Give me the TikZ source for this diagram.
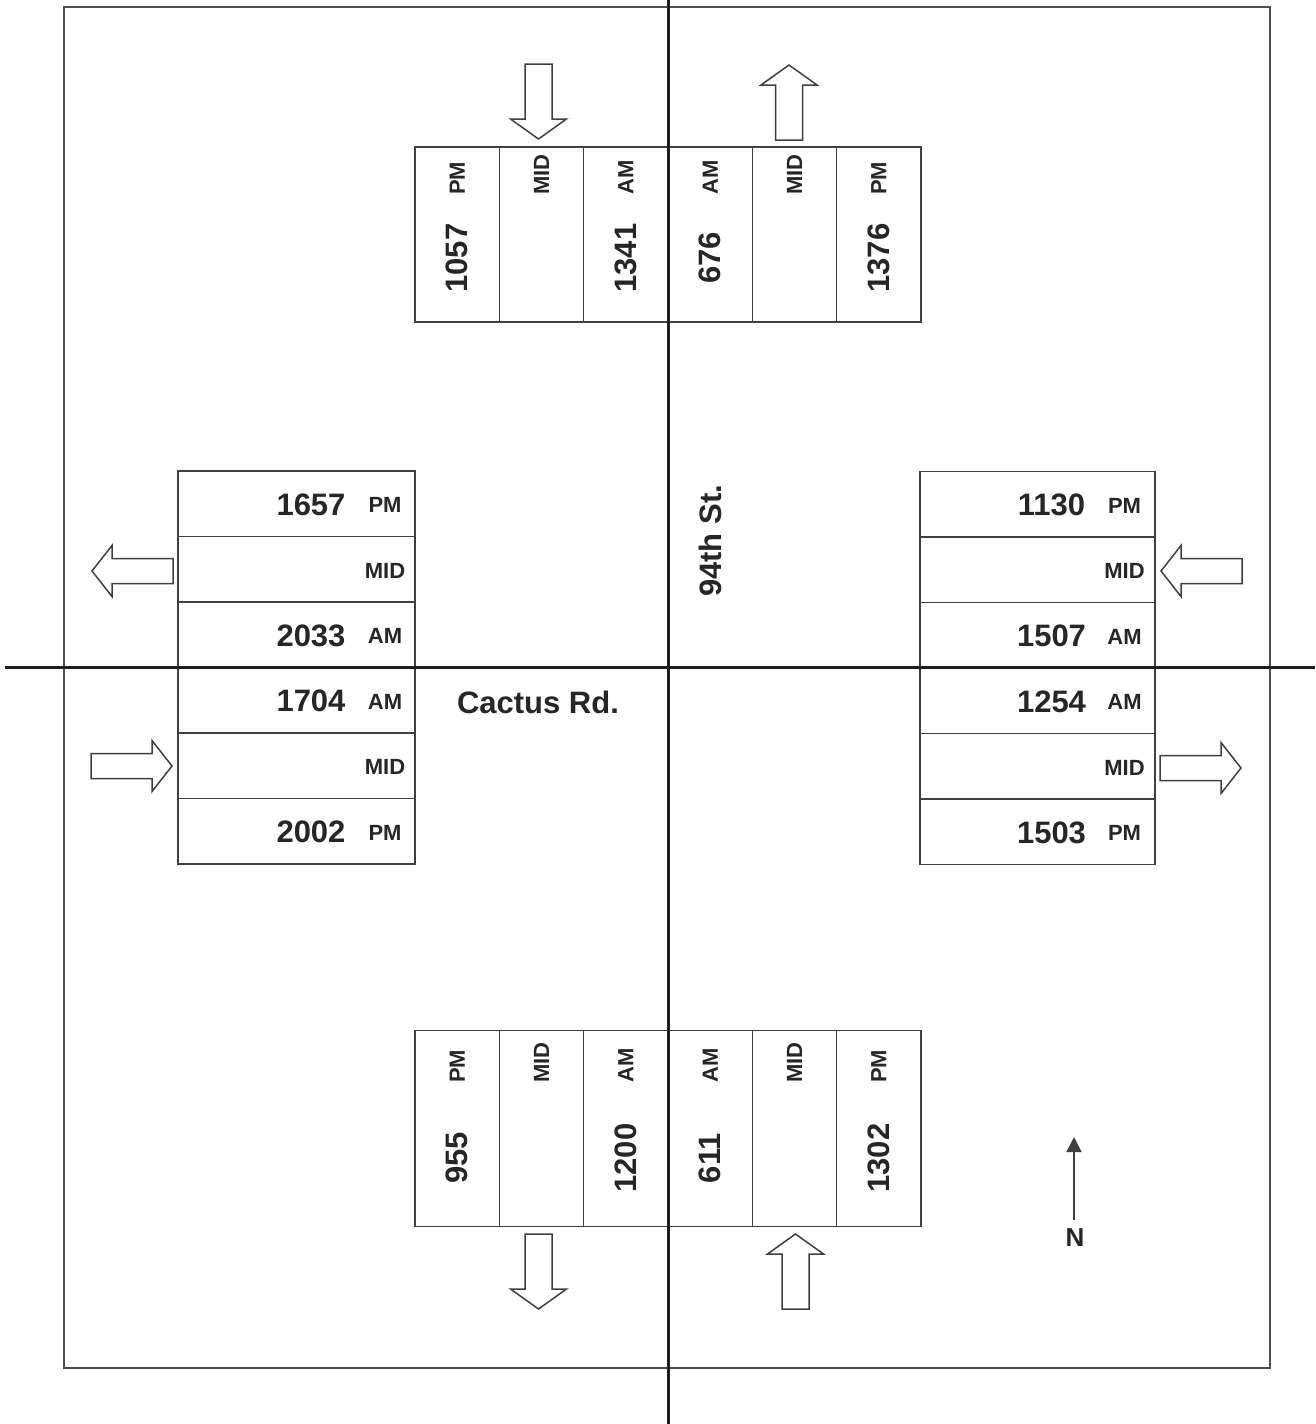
\documentclass[tikz,border=0pt]{standalone}
\usepackage{fontspec}
\setmainfont{Liberation Sans}
\usetikzlibrary{arrows.meta,calc}
\definecolor{framec}{HTML}{505050}
\definecolor{roadc}{HTML}{1E1E1E}
\definecolor{boxc}{HTML}{404040}
\definecolor{txtc}{HTML}{262626}
\newcommand\trafnum{\fontsize{31}{31}\selectfont\bfseries}
\newcommand\traflab{\fontsize{22}{22}\selectfont\bfseries}
\begin{document}
\begin{tikzpicture}[x=1pt,y=-1pt,
  frame/.style={draw=framec,line width=2pt},
  road/.style={draw=roadc,line width=3pt},
  tcell/.style={draw=boxc,line width=1.6pt,minimum width=84.33pt,minimum height=175pt,inner sep=0pt,outer sep=0pt},
  bcell/.style={tcell,minimum height=196pt},
  lcell/.style={draw=boxc,line width=1.6pt,minimum width=237pt,minimum height=65.5pt,inner sep=0pt,outer sep=0pt},
  rcell/.style={lcell,minimum width=235pt},
  num/.style={font=\trafnum,text=txtc,inner sep=0pt},
  lab/.style={font=\traflab,text=txtc,inner sep=0pt},
  blk/.style={draw=boxc,line width=1.5pt,line join=miter},
  varrow/.pic={\draw[blk] (0,-13.5) -- (55,-13.5) -- (55,-28) -- (75,0) -- (55,28) -- (55,13.5) -- (0,13.5) -- cycle;},
  harrow/.pic={\draw[blk] (0,-12.5) -- (61,-12.5) -- (61,-25.5) -- (81,0) -- (61,25.5) -- (61,12.5) -- (0,12.5) -- cycle;}
]
\useasboundingbox (0,0) rectangle (1315,1424);
\fill[white] (0,0) rectangle (1315,1424);
\draw[frame] (64,7) rectangle (1270,1368);

% top box
\foreach \i/\x/\l/\n in {1/457.2/PM/1057, 2/541.5/MID/, 3/625.8/AM/1341, 4/710.2/AM/676, 5/794.5/MID/, 6/878.8/PM/1376}{
  \node[tcell] (t\i) at (\x,234.5) {};
  \node[lab,rotate=90,anchor=west] (tl\i) at (\x,195) {\l};
  \node[num,rotate=90] (tn\i) at (\x,258) {\n};
}
% bottom box
\foreach \i/\x/\l/\n in {1/457.2/PM/955, 2/541.5/MID/, 3/625.8/AM/1200, 4/710.2/AM/611, 5/794.5/MID/, 6/878.8/PM/1302}{
  \node[bcell] (b\i) at (\x,1128.5) {};
  \node[lab,rotate=90,anchor=west] (bl\i) at (\x,1083) {\l};
  \node[num,rotate=90] (bn\i) at (\x,1158) {\n};
}
% left box
\foreach \i/\y/\l/\n in {1/503.75/PM/1657, 2/569.25/MID/, 3/634.75/AM/2033, 4/700.25/AM/1704, 5/765.75/MID/, 6/831.25/PM/2002}{
  \node[lcell] (l\i) at (296.5,\y) {};
  \node[lab] (ll\i) at (385,\y+1.5) {\l};
  \node[num] (ln\i) at (311,\y+1) {\n};
}
% right box
\foreach \i/\y/\l/\n in {1/504.25/PM/1130, 2/569.75/MID/, 3/635.25/AM/1507, 4/700.75/AM/1254, 5/766.25/MID/, 6/831.75/PM/1503}{
  \node[rcell] (r\i) at (1037.5,\y) {};
  \node[lab] (rl\i) at (1124.5,\y+1.5) {\l};
  \node[num] (rn\i) at (1051.5,\y+1) {\n};
}

% block arrows
\pic[rotate=-90] at (538.5,64) {varrow};
\pic[rotate=90] at (789,140) {varrow};
\pic[rotate=-90] at (538.5,1234) {varrow};
\pic[rotate=90] at (795.5,1309) {varrow};
\pic[rotate=180] at (173,571) {harrow};
\pic at (91,766) {harrow};
\pic[rotate=180] at (1242,571) {harrow};
\pic at (1160,768) {harrow};

% roads
\draw[road] (668,0) -- (668,1424);
\draw[road] (5,667) -- (1315,667);
\node[font=\trafnum,text=txtc,inner sep=0pt] (cactus) at (538,702) {Cactus Rd.};
\node[font=\trafnum,text=txtc,inner sep=0pt,rotate=90] (ninetyfour) at (710,541) {94th St.};

% north arrow
\coordinate (ntail) at (1074,1220);
\coordinate (nhead) at (1074,1137);
\draw[draw=boxc,line width=1.6pt,-{Triangle[width=15pt,length=15pt]}] (ntail) -- (nhead);
\node[font=\fontsize{26}{26}\selectfont\bfseries,text=txtc,inner sep=0pt] (nlabel) at (1075,1238) {N};
\end{tikzpicture}
\end{document}
